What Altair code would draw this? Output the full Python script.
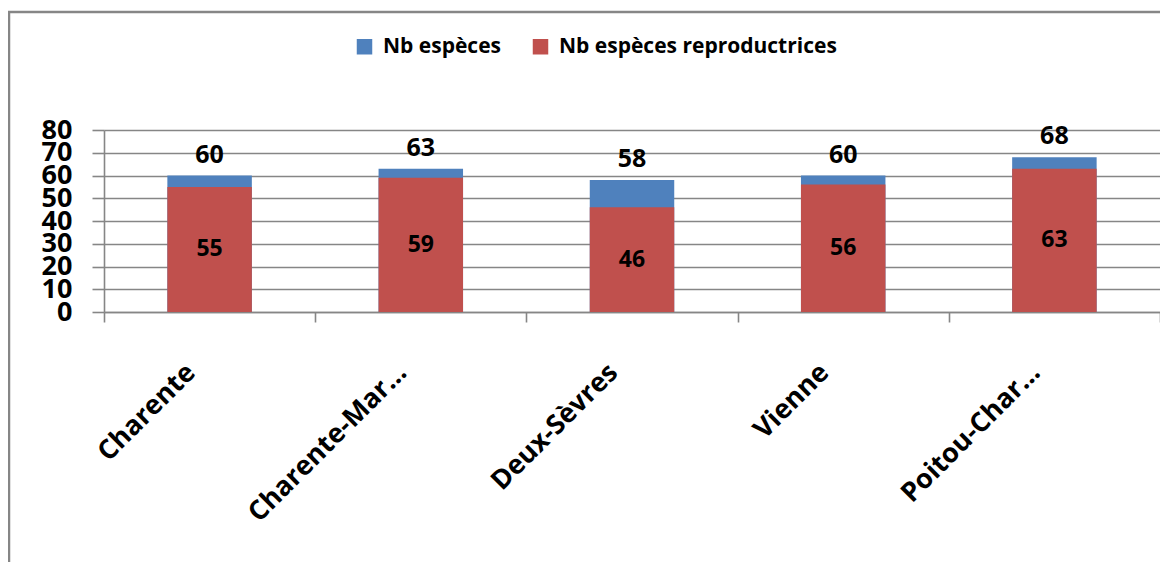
import altair as alt
import pandas as pd

# ---- data ----
regions = ["Charente", "Charente-Mar…", "Deux-Sèvres", "Vienne", "Poitou-Char…"]
nb_especes = [60, 63, 58, 60, 68]
nb_repro = [55, 59, 46, 56, 63]
series = ["Nb espèces", "Nb espèces reproductrices"]
colors = ["#4F81BD", "#C0504D"]
y_ticks = [0, 10, 20, 30, 40, 50, 60, 70, 80]

FONT = "Open Sans"
GRAY = "#868686"

rows = []
for r, t in zip(regions, nb_especes):
    rows.append({"region": r, "serie": series[0], "value": t, "ord": 0})
for r, p in zip(regions, nb_repro):
    rows.append({"region": r, "serie": series[1], "value": p, "ord": 1})
long_df = pd.DataFrame(rows)
wide_df = pd.DataFrame({"region": regions, "total": nb_especes, "repro": nb_repro})

x_scale = alt.Scale(domain=regions, paddingInner=0, paddingOuter=0)
y_scale = alt.Scale(domain=[0, 80], nice=False, zero=True)

x_axis = alt.Axis(
    labelAngle=-45,
    labelAlign="right",
    labelBaseline="middle",
    labelFont=FONT,
    labelFontWeight="bold",
    labelFontSize=27,
    labelColor="black",
    labelPadding=46,
    labelOffset=-19,
    labelLimit=400,
    labelOverlap=False,
    tickBand="extent",
    tickSize=10,
    tickColor=GRAY,
    tickWidth=1.6,
    domainColor=GRAY,
    domainWidth=1.6,
    grid=False,
)

y_axis = alt.Axis(
    values=y_ticks,
    labelFont=FONT,
    labelFontWeight="bold",
    labelFontSize=27,
    labelColor="black",
    labelPadding=20,
    labelOverlap=False,
    labelFlush=False,
    labelSeparation=0,
    tickSize=12,
    tickColor=GRAY,
    tickWidth=1.6,
    domainColor=GRAY,
    domainWidth=1.6,
    grid=True,
    gridColor=GRAY,
    gridWidth=1.6,
)


def xe():
    return alt.X("region:N", sort=regions, title=None, scale=x_scale, axis=x_axis)


bars = alt.Chart(long_df).mark_bar(
    stroke="transparent", width=alt.RelativeBandSize(0.4)
).encode(
    x=xe(),
    y=alt.Y("value:Q", stack=None, scale=y_scale, title=None, axis=y_axis),
    color=alt.Color(
        "serie:N",
        scale=alt.Scale(domain=series, range=colors),
        title=None,
        legend=alt.Legend(
            orient="none",
            legendX=250,
            legendY=-94,
            direction="horizontal",
            symbolType="square",
            symbolSize=240,
            symbolStrokeWidth=0,
            labelFont=FONT,
            labelFontWeight="bold",
            labelFontSize=21,
            labelColor="black",
            labelOffset=8,
            columnPadding=28,
            labelLimit=500,
        ),
    ),
    order=alt.Order("ord:Q"),
)

top_labels = alt.Chart(wide_df).mark_text(
    font=FONT, fontWeight="bold", fontSize=25, color="black",
    baseline="middle", dy=-21,
).encode(
    x=xe(),
    y=alt.Y("total:Q", scale=y_scale, title=None, axis=y_axis),
    text=alt.Text("total:Q"),
)

inner_labels = alt.Chart(wide_df).transform_calculate(
    mid="datum.repro / 2"
).mark_text(
    font=FONT, fontWeight="bold", fontSize=23, color="black", baseline="middle",
).encode(
    x=xe(),
    y=alt.Y("mid:Q", scale=y_scale, title=None, axis=y_axis),
    text=alt.Text("repro:Q"),
)

frame = alt.Chart(pd.DataFrame({"a": [0]})).mark_rect(
    fillOpacity=0, stroke=GRAY, strokeWidth=2.5
).encode(
    x=alt.value(-95), x2=alt.value(1096),
    y=alt.value(-118), y2=alt.value(470),
)

chart = alt.layer(frame, bars, top_labels, inner_labels).properties(
    width=1056,
    height=182,
    autosize=alt.AutoSizeParams(type="none"),
    padding={"left": 96, "top": 122, "right": 0, "bottom": 250},
    background="white",
).configure_view(stroke="transparent")

chart.save("out.html", embed_options={"renderer": "svg", "actions": False})
